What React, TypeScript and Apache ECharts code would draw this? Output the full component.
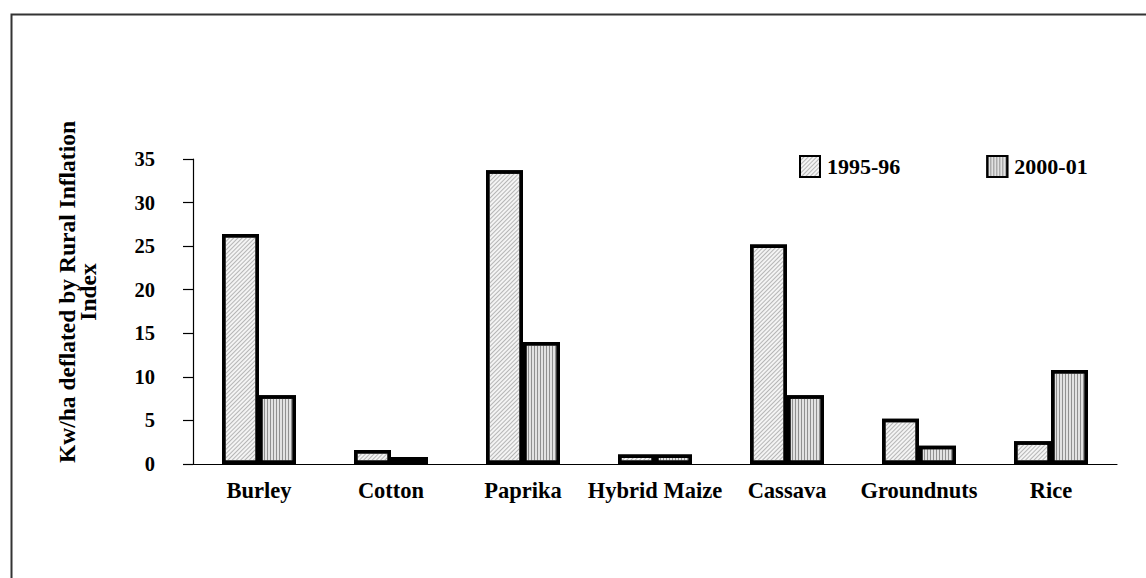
import React, { useEffect, useRef } from "react";
import * as echarts from "echarts";

const categories = ["Burley", "Cotton", "Paprika", "Hybrid Maize", "Cassava", "Groundnuts", "Rice"];
const values1995 = [26.4, 1.6, 33.7, 1.1, 25.2, 5.2, 2.6];
const values2000 = [7.9, 0.8, 14.0, 1.1, 7.9, 2.1, 10.8];
const seriesNames = ["1995-96", "2000-01"];
const yTitle = "Kw/ha deflated by Rural Inflation\nIndex";

const FONT = "'Liberation Serif', 'Times New Roman', serif";

export default function App() {
  const ref = useRef<HTMLDivElement>(null);
  useEffect(() => {
    if (!ref.current) return;
    const chart = echarts.init(ref.current, undefined, { renderer: "svg" });
    const common = {
      type: "bar" as const,
      barWidth: 37,
      barGap: "0%",
    };
    chart.setOption({
      animation: false,
      backgroundColor: "#ffffff",
      textStyle: { fontFamily: FONT, color: "#000" },
      grid: { left: 193, right: 29, top: 159, bottom: 114, containLabel: false },
      legend: {
        left: 794,
        top: 150,
        itemWidth: 20,
        itemHeight: 21,
        itemGap: 86,
        icon: "rect",
        textStyle: { fontFamily: FONT, fontWeight: "bold", fontSize: 22, color: "#000", padding: [0, 0, 0, 2] },
        data: seriesNames,
      },
      xAxis: {
        type: "category",
        data: categories,
        axisLine: { lineStyle: { color: "#000", width: 1.2 } },
        axisTick: { length: 10, lineStyle: { color: "#000", width: 1.2 } },
        axisLabel: { fontFamily: FONT, fontWeight: "bold", fontSize: 22.5, color: "#000", margin: 15, interval: 0 },
      },
      yAxis: {
        type: "value",
        min: 0,
        max: 35,
        interval: 5,
        splitLine: { show: false },
        axisLine: { show: true, lineStyle: { color: "#000", width: 1.2 } },
        axisTick: { show: true, length: 10, lineStyle: { color: "#000", width: 1.2 } },
        axisLabel: { fontFamily: FONT, fontWeight: "bold", fontSize: 20.5, color: "#000", margin: 38 },
      },
      graphic: [
        {
          type: "rect",
          silent: true,
          shape: { x: 11.5, y: 14.5, width: 1300, height: 700 },
          style: { fill: "none", stroke: "#333", lineWidth: 2 },
        },
        {
          type: "text",
          x: 77,
          y: 292,
          rotation: Math.PI / 2,
          style: {
            text: yTitle,
            fontFamily: FONT,
            fontWeight: "bold",
            fontSize: 23.5,
            lineHeight: 21,
            fill: "#000",
            align: "center",
            verticalAlign: "middle",
          },
        },
      ],
      series: [
        {
          ...common,
          name: seriesNames[0],
          data: values1995,
          itemStyle: {
            color: "#f4f4f4",
            borderColor: "#000",
            borderWidth: 3.5,
            decal: {
              symbol: "rect",
              symbolSize: 1,
              color: "rgba(130,130,130,0.55)",
              dashArrayX: [1, 0],
              dashArrayY: [1, 1.5],
              rotation: -Math.PI / 4,
            },
          },
        },
        {
          ...common,
          name: seriesNames[1],
          data: values2000,
          itemStyle: {
            color: "#e2e2e2",
            borderColor: "#000",
            borderWidth: 3.5,
            decal: {
              symbol: "rect",
              symbolSize: 1,
              color: "rgba(90,90,90,0.6)",
              dashArrayX: [1, 1.5],
              dashArrayY: [1, 0],
              rotation: 0,
            },
          },
        },
      ],
    });
    return () => chart.dispose();
  }, []);
  return (
    <div
      ref={ref}
      style={{ position: "fixed", left: 0, top: 0, width: 1146, height: 578 }}
    />
  );
}
